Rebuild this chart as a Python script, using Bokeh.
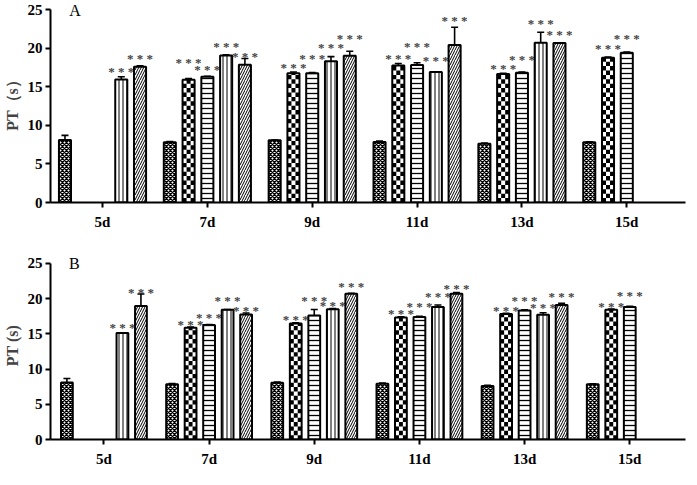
from bokeh.plotting import figure
from bokeh.models import (Range1d, FixedTicker, ColumnDataSource, Whisker, TeeHead, Label)
from bokeh.layouts import column
from bokeh.embed import file_html
from bokeh.resources import INLINE
from bokeh.core.properties import value

groups = ["5d", "7d", "9d", "11d", "13d", "15d"]
y_ticks = [0, 5, 10, 15, 20, 25]

# ---- Panel A data (series: control, checker, horizontal, vertical, diagonal)
a_control = [8.1, 7.8, 8.05, 7.85, 7.6, 7.8]
a_control_err = [0.6, 0.1, 0.05, 0.1, 0.1, 0.05]
a_checker = [None, 15.9, 16.75, 17.75, 16.65, 18.75]
a_checker_err = [0, 0.15, 0.15, 0.25, 0.1, 0.1]
a_horiz = [None, 16.3, 16.75, 17.8, 16.8, 19.4]
a_horiz_err = [0, 0.05, 0.1, 0.3, 0.1, 0.1]
a_vert = [15.95, 19.05, 18.3, 16.9, 20.7, None]
a_vert_err = [0.35, 0.1, 0.6, 0.0, 1.35, 0]
a_diag = [17.6, 17.85, 19.0, 20.4, 20.65, None]
a_diag_err = [0.1, 0.8, 0.6, 2.3, 0.0, 0]
# heights of the "***" marks
a_checker_star = [None, 18.55, 17.85, 19.1, 17.8, 20.3]
a_horiz_star = [None, 17.6, 19.1, 20.65, 18.96, 21.6]
a_vert_star = [17.3, 20.6, 20.5, 18.75, 23.6, None]
a_diag_star = [19.1, 19.3, 21.7, 24.0, 22.1, None]

# ---- Panel B data
b_control = [8.1, 7.85, 8.05, 7.9, 7.6, 7.85]
b_control_err = [0.55, 0.1, 0.1, 0.1, 0.1, 0.05]
b_checker = [None, 15.85, 16.45, 17.3, 17.8, 18.4]
b_checker_err = [0, 0.1, 0.1, 0.1, 0.1, 0.1]
b_horiz = [None, 16.25, 17.6, 17.4, 18.3, 18.8]
b_horiz_err = [0, 0.05, 0.85, 0.1, 0.1, 0.1]
b_vert = [15.1, 18.4, 18.5, 18.8, 17.7, None]
b_vert_err = [0.05, 0.05, 0.1, 0.3, 0.3, 0]
b_diag = [18.95, 17.75, 20.7, 20.7, 19.1, None]
b_diag_err = [1.7, 0.2, 0.05, 0.15, 0.25, 0]
b_checker_star = [None, 16.7, 17.45, 18.35, 18.7, 19.35]
b_horiz_star = [None, 17.8, 20.15, 19.25, 20.15, 20.8]
b_vert_star = [16.35, 20.15, 19.5, 20.7, 19.1, None]
b_diag_star = [21.3, 18.8, 22.2, 21.85, 20.7, None]

FONT = "Liberation Serif"


def make_panel(series, errs, stars, letter, ylabel, width, height, borders,
               x_start, x_end, y_end, pitch, bar_w, cell_h, letter_x, letter_y):
    p = figure(width=width, height=height, output_backend="svg", toolbar_location=None,
               x_range=Range1d(x_start, x_end), y_range=Range1d(0, y_end),
               min_border_left=borders[0], min_border_right=borders[1],
               min_border_top=borders[2], min_border_bottom=borders[3])
    p.outline_line_color = None
    p.xgrid.visible = False
    p.ygrid.visible = False
    p.background_fill_color = "white"

    styles = [
        dict(hatch_pattern="x", hatch_scale=4, hatch_weight=1.4, hatch_color="black"),
        dict(),  # checkerboard drawn with quads below
        dict(hatch_pattern="-", hatch_scale=5, hatch_weight=1.3, hatch_color="black"),
        dict(hatch_pattern="|", hatch_scale=4, hatch_weight=1.0, hatch_color="black"),
        dict(hatch_pattern="/", hatch_scale=5, hatch_weight=1.0, hatch_color="black"),
    ]

    for s, (vals, err, st) in enumerate(zip(series, errs, stars)):
        xs, tops, ups = [], [], []
        for g, v in enumerate(vals):
            if v is None:
                continue
            xs.append(g + (s - 2) * pitch)
            tops.append(v)
            ups.append(v + err[g])
        src = ColumnDataSource(dict(x=xs, top=tops, upper=ups))
        p.vbar(x="x", top="top", bottom=0, width=bar_w, source=src,
               fill_color="white", line_color=None, **styles[s])
        if s == 1:
            # checkerboard fill, cells derived from each bar's position and height
            L, R, B, T = [], [], [], []
            ncol = 3
            cw = bar_w / ncol
            for x0, top in zip(xs, tops):
                left0 = x0 - bar_w / 2
                row = 0
                while row * cell_h < top:
                    b = row * cell_h
                    t = min(top, b + cell_h)
                    for c in range(ncol):
                        if (row + c) % 2 == 0:
                            L.append(left0 + c * cw)
                            R.append(left0 + (c + 1) * cw)
                            B.append(b)
                            T.append(t)
                    row += 1
            p.quad(left=L, right=R, bottom=B, top=T, fill_color="black", line_color=None)
        p.vbar(x="x", top="top", bottom=0, width=bar_w, source=src,
               fill_color=None, line_color="black", line_width=2)
        wh = Whisker(source=src, base="x", lower="top", upper="upper", dimension="height",
                     line_color="black", line_width=1.6,
                     upper_head=TeeHead(size=7, line_width=1.6, line_color="black"),
                     lower_head=None, level="annotation")
        p.add_layout(wh)
        if st is not None:
            sx, syv = [], []
            for g, v in enumerate(st):
                if v is None:
                    continue
                sx.append(g + (s - 2) * pitch)
                syv.append(v)
            ssrc = ColumnDataSource(dict(x=sx, y=syv))
            p.text(x="x", y="y", text=value("* * *"), source=ssrc,
                   text_font=value(FONT), text_font_size="13px", text_color="#444444",
                   text_font_style="bold",
                   text_align="center", text_baseline="middle", y_offset=3)

    for ax in (p.xaxis[0], p.yaxis[0]):
        ax.axis_line_width = 2
        ax.axis_line_color = "black"
        ax.major_tick_line_width = 2
        ax.major_tick_line_color = "black"
        ax.major_tick_in = 0
        ax.major_tick_out = 5
        ax.minor_tick_in = 0
        ax.minor_tick_out = 0
        ax.major_label_text_font = FONT
        ax.major_label_text_font_style = "bold"
        ax.major_label_text_font_size = "15px"
        ax.major_label_text_color = "black"

    p.xaxis.ticker = FixedTicker(ticks=list(range(len(groups))))
    p.xaxis.major_label_overrides = {i: g for i, g in enumerate(groups)}
    p.xaxis.major_label_standoff = 6
    p.yaxis.ticker = FixedTicker(ticks=y_ticks)
    p.yaxis.bounds = (0, 25)
    p.yaxis.major_label_standoff = 3
    p.yaxis.axis_label = ylabel
    p.yaxis.axis_label_text_font = FONT
    p.yaxis.axis_label_text_font_style = "bold"
    p.yaxis.axis_label_text_font_size = "16px"
    p.yaxis.axis_label_standoff = 4

    p.add_layout(Label(x=letter_x, y=letter_y, text=letter, text_font=FONT,
                       text_font_size="16px", text_baseline="middle", text_align="left",
                       text_color="black"))
    return p


pA = make_panel(
    [a_control, a_checker, a_horiz, a_vert, a_diag],
    [a_control_err, a_checker_err, a_horiz_err, a_vert_err, a_diag_err],
    [None, a_checker_star, a_horiz_star, a_vert_star, a_diag_star],
    "A", "PT（s）", 689, 232, (41, 4, 0, 30), -0.496, 5.56, 26.17, 0.179, 0.115, 0.57,
    -0.317, 24.9)

pB = make_panel(
    [b_control, b_checker, b_horiz, b_vert, b_diag],
    [b_control_err, b_checker_err, b_horiz_err, b_vert_err, b_diag_err],
    [None, b_checker_star, b_horiz_star, b_vert_star, b_diag_star],
    "B", "PT (s)", 689, 237, (35, 0, 19, 28), -0.508, 5.53, 26.685, 0.176, 0.112, 0.62,
    -0.333, 25.0)

layout = column(pA, pB)
open("out.html", "w").write(file_html(layout, INLINE))
